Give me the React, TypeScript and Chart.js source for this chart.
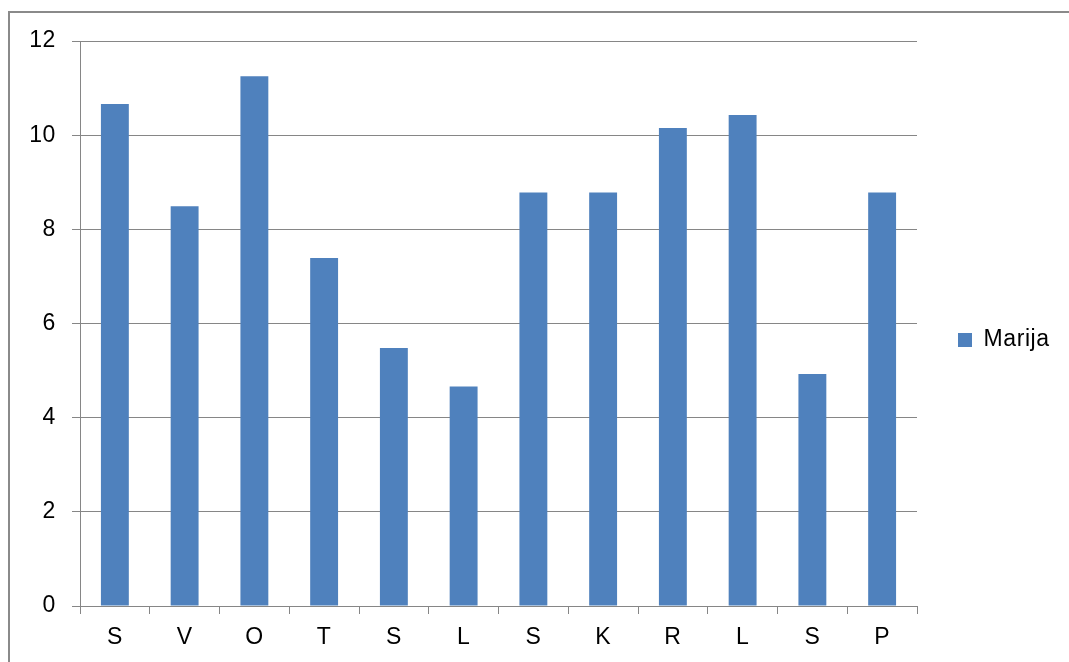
import React, { useEffect, useRef } from 'react';
import { Chart, registerables } from 'chart.js';

Chart.register(...registerables);

const categories = ['S', 'V', 'O', 'T', 'S', 'L', 'S', 'K', 'R', 'L', 'S', 'P'];
const seriesName = 'Marija';
const values = [10.66, 8.49, 11.25, 7.39, 5.48, 4.66, 8.78, 8.78, 10.15, 10.43, 4.93, 8.78];
const yMin = 0;
const yMax = 12;
const yStep = 2;

const W = 1069;
const H = 662;
const FONT = '"Liberation Sans", Arial, sans-serif';
const GRID = '#868686';
const BAR = '#4F81BD';
const LEGEND_W = 152;

const legendFix = {
  id: 'legendFix',
  beforeLayout(chart: any) {
    (chart.ctx as any).letterSpacing = '0.6px';
    const lg = chart.legend;
    if (lg && !lg._patched) {
      const orig = lg.fit.bind(lg);
      lg.fit = function () {
        orig();
        this.width = LEGEND_W;
      };
      lg._patched = true;
    }
  },
  afterLayout(chart: any) {
    const lg = chart.legend;
    if (lg) {
      lg.bottom = lg.bottom - 23;
      lg.height = lg.bottom - lg.top;
    }
  },
  beforeDraw(chart: any) {
    (chart.ctx as any).letterSpacing = '0.6px';
  },
};

export default function App() {
  const ref = useRef<HTMLCanvasElement | null>(null);

  useEffect(() => {
    document.body.style.margin = '0';
    const canvas = ref.current;
    if (!canvas) return;
    const chart = new Chart(canvas, {
      type: 'bar',
      data: {
        labels: categories,
        datasets: [
          {
            label: seriesName,
            data: values,
            backgroundColor: BAR,
            borderWidth: 0,
            categoryPercentage: 0.8,
            barPercentage: 0.5,
          },
        ],
      },
      plugins: [legendFix],
      options: {
        animation: false,
        responsive: false,
        maintainAspectRatio: false,
        devicePixelRatio: 1,
        layout: { padding: { top: 41, left: 0, right: 0, bottom: 0 } },
        plugins: {
          tooltip: { enabled: false },
          legend: {
            position: 'right',
            labels: {
              boxWidth: 14,
              boxHeight: 14,
              padding: 41,
              color: '#000',
              font: { family: FONT, size: 23 },
            },
          },
        },
        scales: {
          x: {
            offset: true,
            grid: {
              offset: true,
              drawOnChartArea: false,
              drawTicks: true,
              tickLength: 8,
              color: GRID,
              lineWidth: 1,
            },
            border: { display: true, color: GRID, width: 1 },
            ticks: {
              color: '#000',
              padding: 10,
              font: { family: FONT, size: 23 },
              maxRotation: 0,
              autoSkip: false,
            },
            afterFit(scale: any) {
              scale.height = 56;
            },
          },
          y: {
            min: yMin,
            max: yMax,
            grid: {
              drawTicks: true,
              tickLength: 8,
              color: GRID,
              lineWidth: 1,
            },
            border: { display: true, color: GRID, width: 1 },
            ticks: {
              stepSize: yStep,
              color: '#000',
              padding: 16,
              font: { family: FONT, size: 23 },
            },
            afterFit(scale: any) {
              scale.width = 80;
            },
          },
        },
      },
    } as any);
    return () => chart.destroy();
  }, []);

  return (
    <div style={{ position: 'fixed', left: 0, top: 0, width: W, height: H, background: '#fff', overflow: 'hidden' }}>
      <canvas ref={ref} width={W} height={H} style={{ position: 'absolute', left: 0, top: 0, width: W, height: H }} />
      <div
        style={{
          position: 'absolute',
          left: 8,
          top: 11,
          width: W,
          height: H,
          borderLeft: '2px solid #8a8a8a',
          borderTop: '2px solid #8a8a8a',
          pointerEvents: 'none',
        }}
      />
    </div>
  );
}
